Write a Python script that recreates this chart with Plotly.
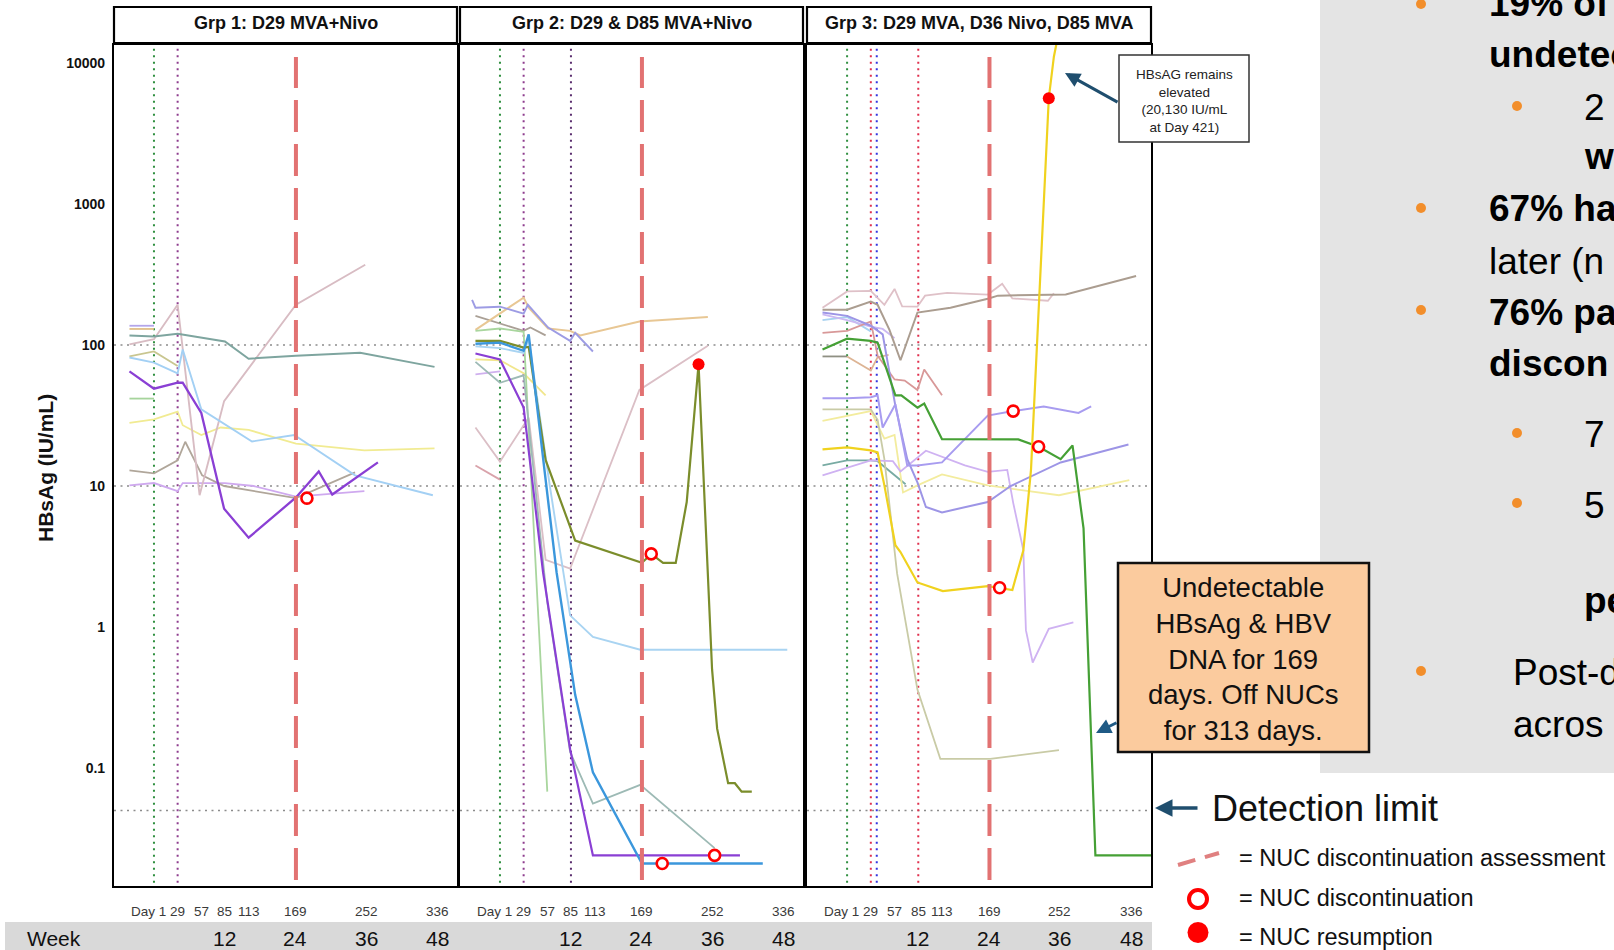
import plotly.graph_objects as go

W, H = 1614, 950
FONT = "Liberation Sans"

# ---------------------------------------------------------------- axes / ticks
DAY_TICKS = [1, 29, 57, 85, 113, 169, 252, 336]
DAY_LABELS = ["Day 1", "29", "57", "85", "113", "169", "252", "336"]
WEEK_TICKS = [84, 168, 252, 336]
WEEK_LABELS = ["12", "24", "36", "48"]
Y_TICKS = [0.1, 1, 10, 100, 1000, 10000]
Y_LABELS = ["0.1", "1", "10", "100", "1000", "10000"]
REF_LEVELS = [100, 10]
DETECTION_LIMIT = 0.05
NUC_ASSESS_DAY = 169
PANEL_TITLES = ["Grp 1: D29 MVA+Nivo",
                "Grp 2: D29 & D85 MVA+Nivo",
                "Grp 3: D29 MVA, D36 Nivo, D85 MVA"]

# dosing-day markers per group: (day, colour)
DOSE_LINES = {
    1: [(1, "#2f8f3f"), (29, "#8e3d8e")],
    2: [(1, "#2f8f3f"), (29, "#8e3d8e"), (85, "#5a2d6e")],
    3: [(1, "#2f8f3f"), (29, "#e0304e"), (36, "#3434e0"), (85, "#e0304e")],
}

# ---------------------------------------------------------------- group 1 HBsAg (IU/mL)
g1_teal_day = [-28, 1, 29, 85, 113, 169, 245, 333]
g1_teal_val = [117, 115, 120, 106, 80, 84, 88, 70]
g1_mauve_day = [-28, 1, 29, 55, 84, 169, 251]
g1_mauve_val = [101, 110, 193, 8.6, 40, 193, 371]
g1_sky_day = [-28, 1, 29, 35, 57, 117, 167, 239, 331]
g1_sky_val = [81.5, 75, 63, 93, 35, 20.7, 23, 11.9, 8.6]
g1_yellow_day = [-28, 1, 29, 35, 57, 80, 113, 169, 250, 333]
g1_yellow_val = [28, 29.7, 33.7, 27, 23, 26, 25, 20, 17.9, 18.5]
g1_khaki_day = [-28, 1, 29]
g1_khaki_val = [83, 90, 71]
g1_green_day = [-28, 1]
g1_green_val = [41.7, 41.7]
g1_peri_day = [-28, 1]
g1_peri_val = [137, 137]
g1_tan_day = [-28, 1]
g1_tan_val = [130, 130]
g1_taupe_day = [-28, 1, 29, 38, 58, 84, 169, 239]
g1_taupe_val = [12.9, 12.3, 15.2, 20.6, 11.9, 10, 8.2, 12.5]
g1_lilac_day = [-28, 1, 29, 35, 85, 119, 169, 250]
g1_lilac_val = [10.1, 10.5, 9.2, 10.5, 10.5, 10, 8.4, 9.2]
g1_purple_day = [-28, 1, 29, 35, 57, 84, 113, 169, 196, 212, 266]
g1_purple_val = [65, 49, 54, 54, 33, 6.9, 4.3, 8.3, 12.7, 8.7, 14.7]

# ---------------------------------------------------------------- group 2 HBsAg (IU/mL)
g2_tan_day = [-28, 29, 35, 58, 84, 96, 166, 247]
g2_tan_val = [128, 217, 184, 131, 126, 117, 147, 158]
g2_peri_day = [-32, -28, 1, 29, 34, 58, 84, 90, 111]
g2_peri_val = [209, 184, 187, 167, 193, 133, 107, 122, 90]
g2_taupe_day = [-28, 29, 37, 55]
g2_taupe_val = [161, 126, 133, 117]
g2_green_day = [-28, 1, 29, 57]
g2_green_val = [126, 131, 124, 0.068]
g2_yellow_day = [-28, 1, 29, 55]
g2_yellow_val = [79, 78, 63, 44]
g2_lilac_day = [-28, 1]
g2_lilac_val = [62, 65]
g2_rose_day = [-28, 1]
g2_rose_val = [14, 11.1]
g2_mauve_day = [-28, 1, 35, 55, 84, 111, 166, 247]
g2_mauve_val = [26, 14.9, 30.6, 3.0, 2.6, 6.8, 48, 99]
g2_grayteal_day = [-28, 1, 29, 57, 84, 111, 167, 255]
g2_grayteal_val = [76, 54, 61, 1.5, 0.13, 0.056, 0.076, 0.027]
g2_sky_day = [-28, 1, 29, 35, 60, 84, 111, 167, 341]
g2_sky_val = [98, 95, 88, 110, 10, 1.21, 0.85, 0.69, 0.69]
g2_olive_day = [-28, 1, 29, 35, 55, 90, 169, 180, 194, 209, 222, 236,
                252, 258, 271, 279, 287, 299]
g2_olive_val = [107, 107, 96, 97, 15.3, 4.1, 2.85, 3.3, 2.85, 2.85, 7.7, 73,
                0.5, 0.19, 0.078, 0.078, 0.068, 0.068]
g2_blue_day = [-28, 1, 29, 35, 54, 68, 90, 111, 169, 312]
g2_blue_val = [102, 104, 91, 119, 12.5, 2.44, 0.33, 0.093, 0.021, 0.021]
g2_purple_day = [-28, 1, 29, 52, 84, 111, 285]
g2_purple_val = [87, 79, 36, 2.44, 0.136, 0.024, 0.024]

# ---------------------------------------------------------------- group 3 HBsAg (IU/mL)
g3_taupe_day = [-28, 1, 29, 37, 51, 64, 84, 123, 167, 179, 259, 342]
g3_taupe_val = [178, 178, 203, 193, 128, 78, 170, 184, 213, 224, 228, 309]
g3_pink_day = [-28, 1, 29, 45, 57, 66, 84, 93, 119, 167, 184, 196, 238, 245]
g3_pink_val = [184, 240, 242, 193, 250, 188, 187, 224, 234, 228, 272, 214, 206, 233]
g3_sky_day = [-28, 1, 29]
g3_sky_val = [150, 158, 125]
g3_lilac2_day = [-28, 1, 29, 43, 57]
g3_lilac2_val = [165, 150, 135, 130, 112]
g3_rose_day = [-28, 1, 29, 37, 57, 69, 84, 92, 113]
g3_rose_val = [122, 126, 147, 84, 57, 56, 48, 67, 44]
g3_dkgray_day = [-28, 1]
g3_dkgray_val = [83, 83]
g3_tan_day = [1, 29, 37, 50]
g3_tan_val = [83, 66, 82, 85]
g3_khaki_day = [-28, 1, 29, 37, 45, 60, 84, 111, 170, 251]
g3_khaki_val = [35, 35, 35, 29.5, 15.5, 2.4, 0.36, 0.116, 0.116, 0.134]
g3_ltyellow_day = [-28, 29, 45, 57, 67, 84, 113, 167, 251, 334]
g3_ltyellow_val = [29, 34, 21.7, 23, 9, 10.1, 12.1, 10.1, 8.6, 11]
g3_teal_day = [-28, 1, 29, 37, 70]
g3_teal_val = [14, 15.2, 15.2, 15, 10.3]
g3_lilac_day = [-28, 1, 29, 55, 64, 94, 140, 167, 190, 197, 209, 212, 220, 239, 268]
g3_lilac_val = [11.9, 13.5, 15.2, 15, 12.7, 17.8, 14, 12.6, 13, 7.6, 3.5, 0.95, 0.56, 0.97, 1.08]
g3_violet_day = [-28, 1, 29, 43, 58, 72, 84, 94, 113, 167, 194, 253, 333]
g3_violet_val = [170, 161, 137, 119, 37, 15.5, 10.6, 7.1, 6.5, 7.7, 10, 14.7, 19.7]
g3_lavblue_day = [-28, 1, 29, 37, 43, 58, 72, 84, 113, 167, 197, 233, 274, 289]
g3_lavblue_val = [42, 42, 42.6, 44, 26, 38, 14, 14, 14.7, 31.6, 34, 36.7, 33, 36.7]
g3_green_day = [-28, 1, 29, 37, 58, 65, 84, 92, 113, 203, 227, 253, 267, 280, 294, 360]
g3_green_val = [93, 111, 107, 104, 44, 44, 36, 38.5, 21.5, 21.4, 19, 15.5, 19.4, 5.0, 0.024, 0.024]
g3_yellow_day = [-28, 1, 29, 37, 45, 58, 64, 84, 114, 167, 196, 209, 218, 239, 245, 252, 421]
g3_yellow_val = [18.2, 18.8, 17.9, 17.3, 10.1, 3.8, 3.4, 2.07, 1.8, 1.95, 1.83, 3.5, 13,
                 5630, 11100, 18000, 20130]

# NUC discontinuation (open) and resumption (filled) events per group
NUC_STOP_DAY = {1: [182], 2: [193, 255, 180], 3: [181, 197, 227]}
NUC_STOP_VAL = {1: [8.2], 2: [0.021, 0.024, 3.3], 3: [1.9, 34, 19]}
NUC_RESUME_DAY = {2: [236], 3: [239]}
NUC_RESUME_VAL = {2: [73], 3: [5630]}

# (group, days, values, colour, width) -- pale first, highlighted last
SERIES = [
    (1, g1_khaki_day, g1_khaki_val, "#c9c690", 1.8),
    (1, g1_green_day, g1_green_val, "#a6d49c", 1.8),
    (1, g1_peri_day, g1_peri_val, "#b3a6ea", 1.8),
    (1, g1_tan_day, g1_tan_val, "#e0be88", 1.8),
    (1, g1_yellow_day, g1_yellow_val, "#f1eb92", 1.8),
    (1, g1_lilac_day, g1_lilac_val, "#cfa9ef", 1.8),
    (1, g1_taupe_day, g1_taupe_val, "#b0a69a", 1.8),
    (1, g1_mauve_day, g1_mauve_val, "#d8bcc3", 1.9),
    (1, g1_sky_day, g1_sky_val, "#a3d0f4", 1.9),
    (1, g1_teal_day, g1_teal_val, "#7ea59f", 2.0),
    (1, g1_purple_day, g1_purple_val, "#8a3fd4", 2.3),

    (2, g2_rose_day, g2_rose_val, "#d9a3ab", 1.8),
    (2, g2_lilac_day, g2_lilac_val, "#cfb0ee", 1.8),
    (2, g2_yellow_day, g2_yellow_val, "#f1e68c", 1.8),
    (2, g2_taupe_day, g2_taupe_val, "#aaa096", 1.8),
    (2, g2_tan_day, g2_tan_val, "#e8c794", 2.0),
    (2, g2_peri_day, g2_peri_val, "#9d9ce4", 1.9),
    (2, g2_mauve_day, g2_mauve_val, "#dbbfc6", 1.8),
    (2, g2_green_day, g2_green_val, "#a9d69e", 1.8),
    (2, g2_grayteal_day, g2_grayteal_val, "#9dbab5", 1.8),
    (2, g2_sky_day, g2_sky_val, "#a9d4f2", 1.9),
    (2, g2_olive_day, g2_olive_val, "#7b8d2b", 2.2),
    (2, g2_purple_day, g2_purple_val, "#8a3fd4", 2.2),
    (2, g2_blue_day, g2_blue_val, "#3b97dc", 2.4),

    (3, g3_dkgray_day, g3_dkgray_val, "#8f9083", 1.8),
    (3, g3_tan_day, g3_tan_val, "#ddb494", 1.8),
    (3, g3_sky_day, g3_sky_val, "#a9d2f0", 1.8),
    (3, g3_lilac2_day, g3_lilac2_val, "#cbb8f2", 1.8),
    (3, g3_rose_day, g3_rose_val, "#d89898", 1.8),
    (3, g3_teal_day, g3_teal_val, "#78aba3", 1.8),
    (3, g3_ltyellow_day, g3_ltyellow_val, "#f3ec9e", 1.8),
    (3, g3_khaki_day, g3_khaki_val, "#c9cba6", 1.8),
    (3, g3_pink_day, g3_pink_val, "#dfc1c8", 1.8),
    (3, g3_taupe_day, g3_taupe_val, "#ab9d90", 2.0),
    (3, g3_lilac_day, g3_lilac_val, "#cfb2f2", 1.8),
    (3, g3_violet_day, g3_violet_val, "#9d95e6", 2.0),
    (3, g3_lavblue_day, g3_lavblue_val, "#a89cf0", 2.0),
    (3, g3_green_day, g3_green_val, "#45a035", 2.2),
    (3, g3_yellow_day, g3_yellow_val, "#f0d21e", 2.2),
]

# ---------------------------------------------------------------- layout geometry (pixels)
PANEL_X = [(114, 457), (460, 803), (807, 1151)]
PLOT_TOP, PLOT_BOTTOM = 45, 886
X_RANGE = [-46.3, 359.6]
Y_RANGE = [-1.837, 4.128]


def px(x):
    return x / W


def py(y):
    return 1 - y / H


def sfx(i):
    return "" if i == 1 else str(i)


def note(text, x, y, size, xref="paper", xanchor="center", bold=False,
         color="#111", **kw):
    return dict(xref=xref, yref="paper", x=x, y=y, xanchor=xanchor,
                yanchor="middle", text=("<b>%s</b>" % text) if bold else text,
                showarrow=False, font=dict(size=size, family=FONT, color=color), **kw)


def arrow(x_head, y_head, ax, ay, width, color):
    return dict(xref="paper", yref="paper", x=px(x_head), y=py(y_head), text="",
                showarrow=True, ax=ax, ay=ay, arrowhead=2, arrowsize=1,
                arrowwidth=width, arrowcolor=color)


fig = go.Figure()

for g, days, vals, color, width in SERIES:
    fig.add_trace(go.Scatter(
        x=days, y=vals, mode="lines", xaxis="x" + sfx(g), yaxis="y" + sfx(g),
        line=dict(color=color, width=width), hoverinfo="skip", showlegend=False))

for g in (1, 2, 3):
    if g in NUC_STOP_DAY:
        fig.add_trace(go.Scatter(
            x=NUC_STOP_DAY[g], y=NUC_STOP_VAL[g], mode="markers",
            xaxis="x" + sfx(g), yaxis="y" + sfx(g),
            marker=dict(symbol="circle", size=11, color="white",
                        line=dict(color="#ff0000", width=2.6)),
            hoverinfo="skip", showlegend=False))
    if g in NUC_RESUME_DAY:
        fig.add_trace(go.Scatter(
            x=NUC_RESUME_DAY[g], y=NUC_RESUME_VAL[g], mode="markers",
            xaxis="x" + sfx(g), yaxis="y" + sfx(g),
            marker=dict(symbol="circle", size=12, color="#ff0000",
                        line=dict(width=0)),
            hoverinfo="skip", showlegend=False))

layout = dict(
    width=W, height=H, margin=dict(l=0, r=0, t=0, b=0),
    paper_bgcolor="white", plot_bgcolor="white", showlegend=False,
    font=dict(family=FONT, color="black"),
)
for i, (x0, x1) in enumerate(PANEL_X, start=1):
    s = sfx(i)
    layout["xaxis" + s] = dict(
        domain=[px(x0), px(x1)], range=X_RANGE, anchor="y" + s,
        showgrid=False, zeroline=False, showticklabels=False, ticks="",
        showline=True, mirror=True, linecolor="black", linewidth=2.2,
        fixedrange=True)
    ydict = dict(
        domain=[py(PLOT_BOTTOM), py(PLOT_TOP)], type="log", range=Y_RANGE,
        anchor="x" + s, showgrid=False, zeroline=False,
        showline=True, mirror=True, linecolor="black", linewidth=2.2,
        fixedrange=True)
    if i == 1:
        ydict.update(tickvals=Y_TICKS, ticktext=Y_LABELS, ticks="outside",
                     ticklen=4, tickcolor="rgba(0,0,0,0)",
                     tickfont=dict(size=14, color="#111", family=FONT, weight="bold"))
    else:
        ydict.update(showticklabels=False, ticks="")
    layout["yaxis" + s] = ydict
fig.update_layout(**layout)

shapes = []
annotations = []

# right-hand text panel background
shapes.append(dict(type="rect", xref="paper", yref="paper", layer="below",
                   x0=px(1320), x1=px(1614), y0=py(773), y1=py(0),
                   fillcolor="#e4e4e4", line=dict(width=0)))
# week band
shapes.append(dict(type="rect", xref="paper", yref="paper", layer="below",
                   x0=px(5), x1=px(1152), y0=py(950), y1=py(922),
                   fillcolor="#d9d9d9", line=dict(width=0)))

for i, (x0, x1) in enumerate(PANEL_X, start=1):
    s = sfx(i)
    # strip header
    shapes.append(dict(type="rect", xref="paper", yref="paper",
                       x0=px(x0), x1=px(x1), y0=py(43), y1=py(7),
                       fillcolor="white", line=dict(color="black", width=2.2)))
    annotations.append(note(PANEL_TITLES[i - 1], px((x0 + x1) / 2), py(23), 18, bold=True))
    # reference levels
    for lvl in REF_LEVELS + [DETECTION_LIMIT]:
        shapes.append(dict(type="line", xref="x%s domain" % s, yref="y" + s,
                           x0=0, x1=1, y0=lvl, y1=lvl, layer="below",
                           line=dict(color="#8c8c8c", width=1.6, dash="2px,4.5px")))
    # dosing days
    for day, col in DOSE_LINES[i]:
        shapes.append(dict(type="line", xref="x" + s, yref="y%s domain" % s,
                           x0=day, x1=day, y0=0.004, y1=0.996, layer="below",
                           line=dict(color=col, width=2, dash="2px,4.5px")))
    # NUC discontinuation assessment
    shapes.append(dict(type="line", xref="x" + s, yref="y%s domain" % s,
                       x0=NUC_ASSESS_DAY, x1=NUC_ASSESS_DAY,
                       y0=(PLOT_BOTTOM - 880) / (PLOT_BOTTOM - PLOT_TOP),
                       y1=(PLOT_BOTTOM - 57) / (PLOT_BOTTOM - PLOT_TOP),
                       layer="above",
                       line=dict(color="#e27272", width=4, dash="32px,12px")))
    # day and week labels
    for d, lab in zip(DAY_TICKS, DAY_LABELS):
        if lab.startswith("Day"):
            annotations.append(note(lab, d, py(911), 13.5, xref="x" + s,
                                    xanchor="right", color="#3a3a3a", xshift=14))
        else:
            annotations.append(note(lab, d, py(911), 13.5, xref="x" + s,
                                    color="#3a3a3a"))
    for d, lab in zip(WEEK_TICKS, WEEK_LABELS):
        annotations.append(note(lab, d, py(938), 21, xref="x" + s))

annotations.append(note("Week", px(25), py(938), 21, xanchor="left"))
annotations.append(note("HBsAg (IU/mL)", px(45), py(468), 21, bold=True, textangle=-90))

# call-out: HBsAg remains elevated
shapes.append(dict(type="rect", xref="paper", yref="paper",
                   x0=px(1119), x1=px(1249), y0=py(142), y1=py(55),
                   fillcolor="white", line=dict(color="#333", width=1.5)))
annotations.append(note("HBsAG remains<br>elevated<br>(20,130 IU/mL<br>at Day 421)",
                        px(1184), py(100.5), 13.5, color="#222", align="center"))
annotations.append(arrow(1065, 73, 54, 30, 3, "#1f4e6e"))

# call-out: undetectable
shapes.append(dict(type="rect", xref="paper", yref="paper",
                   x0=px(1118), x1=px(1369), y0=py(752), y1=py(563),
                   fillcolor="#fbcb9e", line=dict(color="#111", width=2.5)))
annotations.append(note("Undetectable<br>HBsAg &amp; HBV<br>DNA for 169<br>days. Off NUCs<br>for 313 days.",
                        px(1243), py(658.5), 27.5, align="center"))
annotations.append(arrow(1096, 733, 22, -11, 3, "#1f5a85"))

# detection limit pointer
annotations.append(arrow(1155, 808, 44, 0, 3.5, "#1f4e6e"))
annotations.append(note("Detection limit", px(1210), py(808), 36, xanchor="left"))

# key
shapes.append(dict(type="line", xref="paper", yref="paper",
                   x0=px(1178), x1=px(1219), y0=py(865), y1=py(853),
                   line=dict(color="#e08080", width=4, dash="18px,10px")))
shapes.append(dict(type="circle", xref="paper", yref="paper",
                   x0=px(1189), x1=px(1207), y0=py(908), y1=py(890),
                   fillcolor="white", line=dict(color="#ff0000", width=4)))
shapes.append(dict(type="circle", xref="paper", yref="paper",
                   x0=px(1187.5), x1=px(1208.5), y0=py(943), y1=py(922),
                   fillcolor="#ff0000", line=dict(width=0)))
for y, txt in [(858, "= NUC discontinuation assessment"),
               (898, "= NUC discontinuation"),
               (937, "= NUC resumption")]:
    annotations.append(note(txt, px(1237), py(y), 23.5, xanchor="left"))

# bullet text panel (runs off the right edge)
BULLETS = [(1421, 4), (1517, 106), (1421, 208), (1421, 310),
           (1517, 433), (1517, 503), (1421, 671)]
for bx, by in BULLETS:
    shapes.append(dict(type="circle", xref="paper", yref="paper",
                       x0=px(bx - 5), x1=px(bx + 5), y0=py(by + 5), y1=py(by - 5),
                       fillcolor="#f28e2b", line=dict(width=0)))
PANEL_TEXT = [
    (1487, 4, "19% of", True),
    (1487, 55, "undetec", True),
    (1582, 107, "2", False),
    (1582, 157, "w", True),
    (1487, 209, "67% ha", True),
    (1487, 261, "later (n", False),
    (1487, 312, "76% pa", True),
    (1487, 363, "discon", True),
    (1582, 434, "7", False),
    (1582, 505, "5", False),
    (1582, 600, "pe", True),
    (1511, 672, "Post-d", False),
    (1511, 724, "acros", False),
]
for tx, ty, txt, bold in PANEL_TEXT:
    annotations.append(note(txt, px(tx), py(ty), 37, xanchor="left", bold=bold,
                            color="black"))

fig.update_layout(shapes=shapes, annotations=annotations)
fig.write_html("out.html")
